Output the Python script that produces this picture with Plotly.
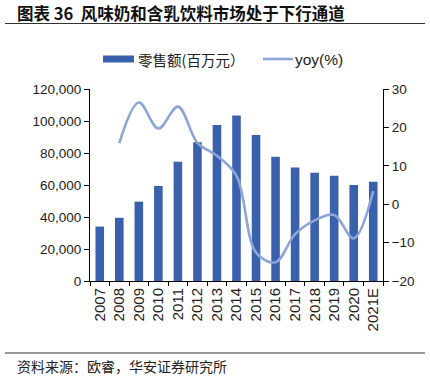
import plotly.graph_objects as go

years = ["2007", "2008", "2009", "2010", "2011", "2012", "2013", "2014",
         "2015", "2016", "2017", "2018", "2019", "2020", "2021E"]
sales = [34000, 39500, 49600, 59400, 74600, 86700, 97500, 103500,
         91300, 77700, 71000, 67700, 65800, 60000, 62100]
yoy = [None, 15.9, 26.5, 19.7, 25.4, 16.0, 12.6, 7.4,
       -12.6, -15.1, -7.8, -4.2, -2.8, -8.9, 3.4]

title_text = "图表 36  风味奶和含乳饮料市场处于下行通道"
source_text = "资料来源：欧睿，华安证券研究所"
bar_name = "零售额(百万元）"
line_name = "yoy(%)"

BAR_C = "#3A62AC"
LINE_C = "#8DA4D8"

# plot area in pixels
L, R, T, B = 90, 383, 89, 281
W, H = 430, 379


def px(x):
    return (x - L) / (R - L)


def py(y):
    return (B - y) / (B - T)


fig = go.Figure()
fig.add_trace(go.Bar(x=years, y=sales, name=bar_name, marker_color=BAR_C,
                     marker_line_width=0, yaxis="y"))
fig.add_trace(go.Scatter(x=years, y=yoy, name=line_name, mode="lines",
                         line=dict(color=LINE_C, width=2.6, shape="spline", smoothing=1.0),
                         yaxis="y2", connectgaps=False))

tickfont = dict(family="Liberation Sans, Arial", size=13.5, color="#222")
xtickfont = dict(family="Liberation Sans, Arial", size=15, color="#222")

fig.update_layout(
    width=W, height=H,
    margin=dict(l=L, r=W - R, t=T, b=H - B, autoexpand=False),
    paper_bgcolor="white", plot_bgcolor="white",
    showlegend=False,
    bargap=0.56,
    xaxis=dict(type="category", showline=True, linecolor="#000", linewidth=1,
               ticks="outside", ticklen=4, tickcolor="#000", tickson="boundaries",
               tickangle=-90, tickfont=xtickfont, showgrid=False),
    yaxis=dict(range=[0, 120000], dtick=20000, tickformat=",d", showline=True,
               linecolor="#000", linewidth=1, ticks="outside", ticklen=5,
               tickcolor="#000", showgrid=False, zeroline=False, tickfont=tickfont),
    yaxis2=dict(range=[-20, 30], dtick=10, overlaying="y", side="right",
                showline=True, linecolor="#000", linewidth=1, ticks="outside",
                ticklen=5, tickcolor="#000", showgrid=False, zeroline=False,
                tickfont=tickfont),
)

shapes = [
    # title underline
    dict(type="line", xref="paper", yref="paper", x0=px(5), x1=px(425),
         y0=py(23.5), y1=py(23.5), line=dict(color="#333", width=1.2)),
    # footer line
    dict(type="line", xref="paper", yref="paper", x0=px(5), x1=px(425),
         y0=py(353), y1=py(353), line=dict(color="#333", width=1.2)),
    # legend bar swatch
    dict(type="rect", xref="paper", yref="paper", x0=px(103), x1=px(134),
         y0=py(62.5), y1=py(55.5), fillcolor=BAR_C, line=dict(width=0)),
    # legend line swatch
    dict(type="line", xref="paper", yref="paper", x0=px(263), x1=px(293),
         y0=py(59), y1=py(59), line=dict(color=LINE_C, width=2.6)),
]

annotations = [
    dict(text="<b>" + title_text + "</b>", xref="paper", yref="paper",
         x=px(15), y=py(12.5), xanchor="left", yanchor="middle", showarrow=False,
         font=dict(family="Noto Sans CJK SC", size=16.5, color="#111")),
    dict(text=bar_name, xref="paper", yref="paper", x=px(136), y=py(59),
         xanchor="left", yanchor="middle", showarrow=False,
         font=dict(family="Noto Sans CJK SC", size=14.5, color="#222")),
    dict(text=line_name, xref="paper", yref="paper", x=px(293), y=py(59),
         xanchor="left", yanchor="middle", showarrow=False,
         font=dict(family="Liberation Sans, Arial", size=15.5, color="#222")),
    dict(text=source_text, xref="paper", yref="paper", x=px(15), y=py(366),
         xanchor="left", yanchor="middle", showarrow=False,
         font=dict(family="Noto Sans CJK SC", size=14, color="#222")),
]

fig.update_layout(shapes=shapes, annotations=annotations)
fig.write_html("out.html",
               config={"displayModeBar": False},
               post_script="document.body.style.margin='0';document.body.style.padding='0';")
